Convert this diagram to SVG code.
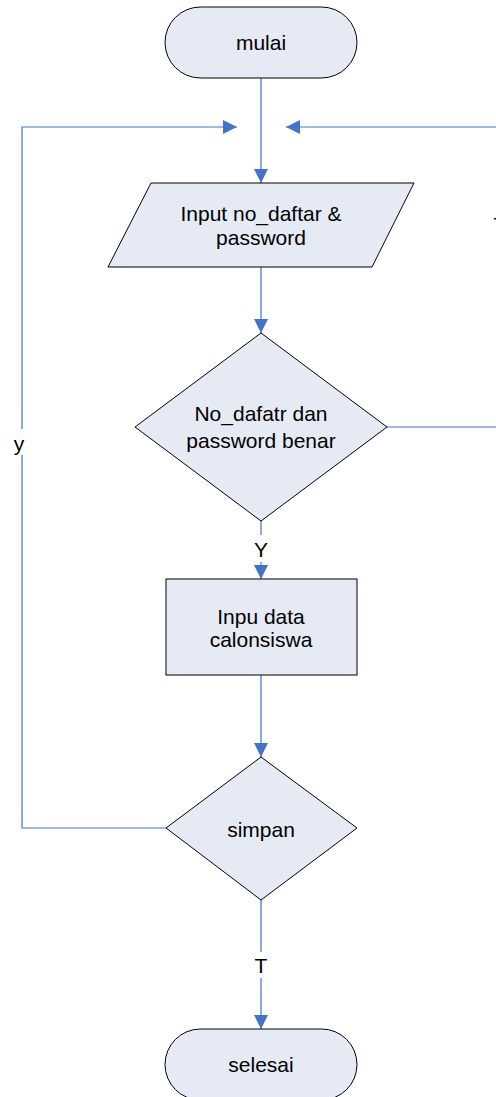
<svg xmlns="http://www.w3.org/2000/svg" width="496" height="1097" viewBox="0 0 496 1097">
  <style>
    .shape { fill: #E6EAF5; stroke: #000; stroke-width: 1; }
    .label { font-family: "Liberation Sans", Arial, sans-serif; font-size: 21px; fill: #000; text-anchor: middle; }
    .conn { fill: none; stroke: #4472C4; stroke-width: 1.2; }
    .arrow { marker-end: url(#head); }
  </style>
  <defs>
    <marker id="head" markerUnits="userSpaceOnUse" markerWidth="14" markerHeight="14" refX="14" refY="7" orient="auto">
      <path d="M0,0 L14,7 L0,14 z" fill="#4472C4"/>
    </marker>
  </defs>
  <rect width="496" height="1097" fill="#fff"/>

  <g id="connectors">
    <path class="conn arrow" d="M261,78 V183"/>
    <path class="conn arrow" d="M261,267 V333"/>
    <path class="conn" d="M261,521 V535"/>
    <path class="conn arrow" d="M261,562 V579"/>
    <path class="conn arrow" d="M261,675 V757"/>
    <path class="conn" d="M261,900 V952"/>
    <path class="conn arrow" d="M261,978 V1029"/>
    <!-- loop back from "simpan" (y) -->
    <path class="conn" d="M166,828 H22 V455"/>
    <path class="conn arrow" d="M22,429 V127 H237"/>
    <!-- loop back from the check (T) -->
    <path class="conn arrow" d="M387,427 H501 V127 H286"/>
    <text class="label" x="261" y="557">Y</text>
    <text class="label" x="261" y="973">T</text>
    <text class="label" x="19" y="451">y</text>
    <text class="label" x="500" y="232">T</text>
  </g>

  <g id="mulai">
    <rect class="shape" x="165" y="7" width="192" height="71" rx="35.5" ry="35.5"/>
    <text class="label" x="261" y="50">mulai</text>
  </g>

  <g id="input-login">
    <polygon class="shape" points="151,183 414,183 372,267 108,267"/>
    <text class="label" x="261" y="221">Input no_daftar &amp;</text>
    <text class="label" x="261" y="245">password</text>
  </g>

  <g id="cek-login">
    <polygon class="shape" points="261,333 387,427 261,521 135,427"/>
    <text class="label" x="261" y="421">No_dafatr dan</text>
    <text class="label" x="261" y="448">password benar</text>
  </g>

  <g id="input-data">
    <rect class="shape" x="166" y="579" width="191" height="96"/>
    <text class="label" x="261" y="624">Inpu data</text>
    <text class="label" x="261" y="647">calonsiswa</text>
  </g>

  <g id="simpan">
    <polygon class="shape" points="261,757 357,828 261,900 166,828"/>
    <text class="label" x="261" y="837">simpan</text>
  </g>

  <g id="selesai">
    <rect class="shape" x="165" y="1029" width="192" height="71" rx="35.5" ry="35.5"/>
    <text class="label" x="261" y="1072">selesai</text>
  </g>
</svg>
